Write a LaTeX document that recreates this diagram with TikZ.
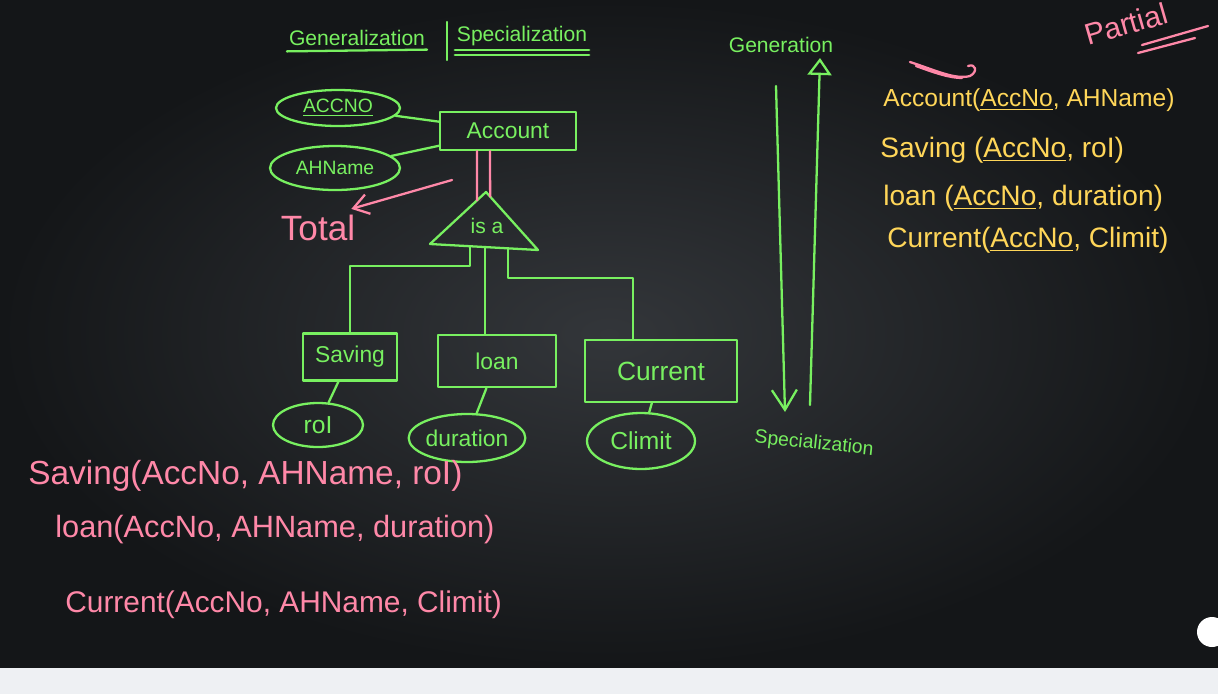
\documentclass[tikz,border=0pt]{standalone}
\usepackage{fontspec}
\setmainfont{Liberation Sans}
\usetikzlibrary{arrows.meta, positioning, shapes.geometric, calc}
\definecolor{boardmid}{HTML}{33363A}
\definecolor{boardedge}{HTML}{141618}
\definecolor{chalkgreen}{HTML}{78F060}
\definecolor{chalkpink}{HTML}{FF88A8}
\definecolor{chalkyellow}{HTML}{FFD659}
\definecolor{barwhite}{HTML}{EEF0F3}

\begin{document}
\begin{tikzpicture}[
    x=0.02cm, y=-0.02cm,
    pen/.style={line width=1.3pt, line cap=round, line join=round},
    entity/.style={draw=chalkgreen, pen, text=chalkgreen, font=\fontsize{13}{15}\selectfont, inner sep=0pt},
    attr/.style={ellipse, draw=chalkgreen, pen, text=chalkgreen, font=\fontsize{13}{15}\selectfont, inner sep=0pt},
    greentext/.style={text=chalkgreen, font=\fontsize{12}{14}\selectfont, inner sep=1pt},
    pinktext/.style={text=chalkpink, anchor=west, inner sep=0pt},
    yellowtext/.style={text=chalkyellow, font=\fontsize{16}{19}\selectfont, anchor=west, inner sep=0pt},
    gline/.style={draw=chalkgreen, pen},
    pline/.style={draw=chalkpink, pen},
]
% board
\useasboundingbox (0,0) rectangle (1218,694);
\shade[inner color=boardmid, outer color=boardedge] (0,0) rectangle (1218,668);
\fill[barwhite] (0,668) rectangle (1218,694);
\fill[white] (1212,632) circle[radius=0.3cm];

% titles
\node[greentext] (genl) at (357,38) {Generalization};
\node[greentext] (spcl) at (522,36) {Specialization};
\draw[gline] ([yshift=-2pt]genl.south west) -- ([yshift=-1pt]genl.south east);
\draw[gline] (447,22) -- (447,60);
\draw[gline] ([yshift=-1pt]spcl.south west) -- ([yshift=-1pt]spcl.south east);
\draw[gline] ([yshift=-4pt]spcl.south west) -- ([yshift=-4pt]spcl.south east);

% account and its attributes
\node[attr, minimum width=2.48cm, minimum height=0.72cm, font=\fontsize{11}{13}\selectfont] (accno) at (338,108) {\underline{ACCNO}};
\node[attr, minimum width=2.6cm, minimum height=0.88cm, font=\fontsize{11}{13}\selectfont] (ahname) at (335,168) {AHName};
\node[entity, minimum width=2.72cm, minimum height=0.76cm] (account) at (508,131) {Account};
\draw[gline] (accno) -- (account);
\draw[gline] (ahname) -- (account);

% isa triangle
\coordinate (apex) at (486,192);
\coordinate (isaL) at (430,244);
\coordinate (isaR) at (538,250);
\draw[gline] (apex) -- (isaL) -- (isaR) -- cycle;
\node[greentext] (isa) at (487,226) {is a};
\coordinate (bl) at ($(isaL)!0.37!(isaR)$);
\coordinate (bm) at ($(isaL)!0.51!(isaR)$);
\coordinate (br) at ($(isaL)!0.72!(isaR)$);

\draw[pline] ([xshift=-0.62cm]account.south) -- ($(apex)!0.16!(isaL)$);
\draw[pline] ([xshift=-0.36cm]account.south) -- ($(apex)!0.08!(isaR)$);

\node[text=chalkpink, font=\fontsize{20}{24}\selectfont] (total) at (318,228) {Total};
\coordinate (totalfrom) at (452,180);
\draw[pline, -{Straight Barb[length=3mm, width=4mm]}] (totalfrom) -- ([xshift=-0.2cm]total.north east);

% subclasses
\node[entity, minimum width=1.88cm, minimum height=0.94cm] (saving) at (350,357) {Saving};
\node[entity, minimum width=2.36cm, minimum height=1.04cm] (loan) at (497,361) {loan};
\node[entity, minimum width=3.04cm, minimum height=1.24cm, font=\fontsize{15}{17}\selectfont] (current) at (661,371) {Current};
\draw[gline] (bl) -- ++(0,20) -| (saving.north);
\draw[gline] (bm) -- (bm |- loan.north);
\draw[gline] (br) -- ++(0,30) -| ([xshift=-0.56cm]current.north);

\node[attr, minimum width=1.8cm, minimum height=0.88cm, font=\fontsize{14}{16}\selectfont] (roi) at (318,425) {roI};
\node[attr, minimum width=2.24cm, minimum height=0.96cm] (duration) at (467,438) {duration};
\node[attr, minimum width=2.16cm, minimum height=1.12cm, font=\fontsize{14}{16}\selectfont] (climit) at (641,441) {Climit};
\draw[gline] (saving) -- (roi);
\draw[gline] (loan) -- (duration);
\draw[gline] (current) -- (climit);

% direction arrows
\node[greentext] (gen) at (781,45) {Generation};
\node[greentext, font=\fontsize{11}{13}\selectfont, rotate=-6] (spec) at (814,444) {Specialization};
\coordinate (downtop) at (776,86);
\coordinate (downend) at (785,412);
\coordinate (upfoot) at (810,405);
\coordinate (uphead) at (820,58);
\draw[gline, -{Straight Barb[length=4mm, width=5mm]}] (downtop) -- (downend);
\draw[gline, -{Triangle[open, length=0.34cm, width=0.48cm]}] (upfoot) -- (uphead);

% partial: tables
\node[text=chalkpink, font=\fontsize{17}{20}\selectfont, rotate=16, inner sep=0pt] (partial) at (1126,24) {Partial};
\draw[pline] (1142,45) -- (1208,26);
\draw[pline] (1138,53) -- (1195,38);
\draw[pline] (910,62) .. controls (935,70) and (955,80) .. (970,76) .. controls (978,72) and (976,63) .. (968,66);
\draw[pline] (916,66) .. controls (935,73) and (950,78) .. (962,78);

\node[yellowtext, font=\fontsize{14}{17}\selectfont] (ryacc) at (883,100) {Account(\underline{AccNo}, AHName)};
\node[yellowtext] (rysav) at (880,150) {Saving (\underline{AccNo}, roI)};
\node[yellowtext] (ryloan) at (883,198) {loan (\underline{AccNo}, duration)};
\node[yellowtext] (rycur) at (887,240) {Current(\underline{AccNo}, Climit)};

% total: tables
\node[pinktext, font=\fontsize{19}{23}\selectfont] (psav) at (28,476) {Saving(AccNo, AHName, roI)};
\node[pinktext, font=\fontsize{17.5}{21}\selectfont] (ploan) at (55,530) {loan(AccNo, AHName, duration)};
\node[pinktext, font=\fontsize{17}{21}\selectfont] (pcur) at (65,605) {Current(AccNo, AHName, Climit)};
\end{tikzpicture}
\end{document}
